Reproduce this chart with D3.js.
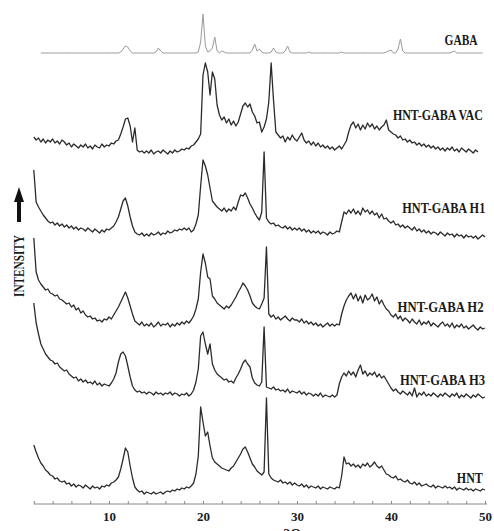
<!DOCTYPE html>
<html>
<head>
<meta charset="UTF-8">
<title>XRD patterns</title>
<script src="https://d3js.org/d3.v7.min.js"></script>
<style>
  body { margin: 0; background: #fff; }
  .lbl { font-family: "Liberation Serif", "Times New Roman", serif; font-weight: bold; fill: #1a1a1a; }
</style>
</head>
<body>
<div id="chart"></div>
<script>
// 2-theta sampling: 2 to 50 deg, step 0.25
var thetaStart = 2, thetaStep = 0.25, nPoints = 193;
var twoTheta = d3.range(nPoints).map(function(i) { return thetaStart + i * thetaStep; });

var seriesNames = ["GABA", "HNT-GABA VAC", "HNT-GABA H1", "HNT-GABA H2", "HNT-GABA H3", "HNT"];
var tickLabels = [10, 20, 30, 40, 50];

// stacked intensity (a.u.), one row = 2 degrees
var gaba = [
  null,null,null,451,451,451,451,451,
  451,451,451,451,451,451,451,451,
  451,451,451,451,451,451,451,451,
  451,451,451,451,451,451,451,451,
  451,451,451,451,451,452,455,458,
  457,453,451,451,451,451,451,451,
  451,451,451,451,452,456,453,451,
  451,451,451,451,451,451,451,451,
  451,451,451,451,451,451,452,462,
  490,458,452,453,456,467,453,451,
  453,452,451,451,451,451,451,451,
  451,451,451,451,451,454,460,453,
  455,452,451,451,451,452,456,452,
  451,451,451,453,458,452,451,451,
  451,451,451,451,451,452,451,451,
  451,451,451,451,451,451,451,451,
  451,451,451,452,451,451,451,451,
  451,451,451,451,451,451,451,451,
  451,451,451,451,451,451,452,453,
  454,451,451,455,465,453,451,451,
  451,451,451,451,451,451,451,451,
  451,451,451,451,451,451,451,451,
  451,451,452,453,451,451,451,451,
  451,451,451,451,451,451,451,451,
  null
];
var hntGabaVac = [
  367,364,366,362,365,361,364,362,
  365,361,363,360,364,362,359,361,
  357,360,358,356,359,357,360,356,
  358,355,359,357,356,360,357,359,
  358,361,360,363,364,370,377,385,
  386,378,362,376,354,352,353,351,
  353,351,354,350,352,353,351,354,
  352,350,353,351,354,352,353,355,
  354,356,355,358,359,362,365,370,
  429,441,432,409,432,425,399,389,
  384,387,381,385,379,383,378,382,
  390,398,401,397,400,392,388,381,
  382,372,377,385,402,441,404,372,
  369,366,368,362,367,364,369,365,
  363,367,371,364,361,363,359,362,
  358,361,357,359,356,358,355,357,
  354,356,358,355,359,363,372,379,
  382,376,380,374,379,375,381,377,
  380,375,378,374,377,379,384,374,
  372,370,369,366,368,364,365,362,
  364,361,362,359,361,358,360,357,
  359,356,358,355,357,354,356,353,
  356,354,357,353,355,352,356,354,
  352,355,353,351,354,352,null,null,
  null
];
var hntGabaH1 = [
  334,302,297,293,289,286,283,281,
  282,279,281,278,280,277,279,276,
  278,275,277,274,276,275,273,276,
  274,272,275,273,271,274,272,275,
  274,276,278,282,287,295,303,306,
  298,287,278,272,270,269,271,268,
  270,268,271,269,270,272,269,271,
  270,273,271,272,274,273,275,274,
  276,274,276,272,274,280,289,318,
  344,338,329,316,303,300,297,295,
  293,296,292,295,293,297,294,302,
  309,308,311,306,300,296,291,287,
  284,292,352,286,282,280,281,278,
  279,277,276,278,275,277,274,276,
  274,276,273,275,272,274,271,273,
  271,273,270,272,271,269,272,270,
  271,273,272,282,292,290,294,291,
  295,290,293,289,296,292,294,290,
  293,289,291,286,290,285,286,283,
  281,283,279,280,277,279,276,278,
  276,274,277,273,275,272,274,271,
  273,270,272,271,269,272,270,268,
  271,269,270,267,270,268,269,266,
  269,267,268,266,268,265,267,269,
  267
];
var hntGabaH2 = [
  266,232,224,220,217,214,215,211,
  210,208,209,205,204,202,200,201,
  197,199,194,196,191,193,189,187,
  188,185,186,183,184,182,185,184,
  187,185,189,193,197,202,207,212,
  206,198,190,183,181,179,182,178,
  180,178,181,177,179,182,178,180,
  179,181,177,180,178,181,179,182,
  180,183,181,184,188,195,205,232,
  250,241,227,225,208,205,201,199,
  197,195,198,196,199,203,207,212,
  216,221,218,214,208,201,198,196,
  195,200,206,257,190,187,189,185,
  187,184,186,188,185,183,186,184,
  184,182,185,181,183,180,182,179,
  181,178,180,177,179,181,178,180,
  178,180,179,190,198,204,208,211,
  205,210,203,208,201,209,204,206,
  210,203,207,200,204,199,195,193,
  189,187,190,185,188,183,186,184,
  181,185,182,180,184,179,182,180,
  183,178,181,179,177,180,182,178,
  180,177,181,176,179,177,180,176,
  178,175,177,179,176,174,177,175,
  176
];
var hntGabaH3 = [
  201,181,170,160,155,150,147,144,
  143,140,141,137,135,133,134,130,
  128,126,127,123,125,122,124,121,
  122,120,123,119,121,118,120,119,
  118,121,125,131,142,150,152,148,
  138,127,118,114,112,113,111,112,
  110,112,111,109,112,110,111,109,
  111,110,112,109,111,110,108,110,
  109,111,108,110,114,122,135,168,
  172,160,150,160,140,134,130,128,
  126,124,125,122,123,121,126,130,
  135,141,144,140,137,126,121,119,
  118,122,177,117,116,115,117,114,
  115,113,114,112,115,111,113,112,
  111,113,110,112,109,111,110,108,
  110,108,111,107,109,108,107,109,
  107,109,120,127,131,128,133,129,
  132,127,134,139,130,133,128,131,
  129,132,127,130,126,128,124,120,
  116,113,115,112,110,113,111,109,
  112,108,116,107,111,109,112,108,
  110,108,111,109,107,110,108,111,
  109,107,110,108,111,106,109,107,
  110,108,106,109,107,110,108,106,
  107
];
var hnt = [
  59,52,46,41,38,34,32,29,
  28,25,26,23,22,23,20,21,
  18,20,17,19,18,16,19,17,
  15,18,16,17,15,18,17,19,
  18,21,22,24,27,35,45,56,
  52,38,26,17,14,12,13,10,
  12,11,10,12,10,11,12,10,
  12,13,12,14,13,15,14,16,
  15,17,16,18,21,30,48,97,
  82,68,72,58,46,42,40,38,
  36,35,34,33,36,38,42,46,
  50,55,57,52,46,40,37,33,
  31,29,32,106,30,26,24,23,
  22,24,21,22,20,22,19,21,
  19,18,20,17,19,16,18,17,
  16,18,15,17,16,15,17,16,
  15,17,16,28,47,40,41,38,
  40,37,39,36,40,38,41,37,
  39,42,38,36,38,34,30,29,
  27,26,28,24,25,23,22,24,
  21,20,22,19,21,18,19,20,
  18,17,19,16,18,17,16,18,
  16,17,15,17,14,16,15,14,
  16,14,15,13,15,14,13,15,
  14
];

var series = [gaba, hntGabaVac, hntGabaH1, hntGabaH2, hntGabaH3, hnt];
// label placement: 2-theta where the name starts, level (a.u.) of its baseline, text width
var labelTheta = [45.7, 40.2, 41.2, 40.7, 40.95, 47.0];
var labelLevel = [459, 384, 291, 192, 119, 21];
var labelWidth = [33, 90, 83, 86, 85, 26];

var W = 494, H = 531;
var svg = d3.select("#chart").append("svg")
    .attr("width", W)
    .attr("height", H);

var x = d3.scaleLinear().domain([2, 50]).range([33.8, 485]);
var y = d3.scaleLinear().domain([0, 500]).range([504, 4]);

var line = d3.line()
    .defined(function(d) { return d != null; })
    .x(function(d, i) { return x(twoTheta[i]); })
    .y(function(d) { return y(d); });

svg.selectAll("path.trace")
    .data(series)
    .enter()
    .append("path")
    .attr("class", "trace")
    .attr("d", line)
    .attr("fill", "none")
    .attr("stroke", function(d, i) { return i == 0 ? "#9a9a9a" : "#2b2b2b"; })
    .attr("stroke-width", function(d, i) { return i == 0 ? 1 : 1.3; })
    .attr("stroke-linejoin", "round");

// pattern names (condensed, tall bold serif like the original)
svg.selectAll("text.name")
    .data(seriesNames)
    .enter()
    .append("text")
    .attr("class", "lbl name")
    .attr("transform", function(d, i) {
        return "translate(" + x(labelTheta[i]) + "," + y(labelLevel[i]) + ") scale(1,1.3)";
    })
    .style("font-size", "11.5px")
    .attr("textLength", function(d, i) { return labelWidth[i]; })
    .attr("lengthAdjust", "spacingAndGlyphs")
    .text(function(d) { return d; });

// x axis: minor ticks every 2 deg, labels every 10
var axisG = svg.append("g")
    .attr("transform", "translate(0,504)");
axisG.call(d3.axisBottom(x)
    .tickValues(d3.range(2, 51, 2))
    .tickSizeInner(-3)
    .tickSizeOuter(0)
    .tickFormat(""));
axisG.select(".domain").attr("stroke", "#8a8a8a").attr("d", "M" + x(2) + ",0H" + (x(50) + 2));
axisG.selectAll(".tick line").attr("stroke", "#8a8a8a");

var labG = svg.append("g")
    .attr("transform", "translate(0,504)");
labG.call(d3.axisBottom(x)
    .tickValues(tickLabels)
    .tickSize(0)
    .tickPadding(8)
    .tickFormat(d3.format("d")));
labG.select(".domain").remove();
labG.selectAll("text")
    .attr("class", "lbl")
    .style("font-size", "13px")
    .attr("fill", "#1a1a1a");

// axis titles
svg.append("text")
    .attr("class", "lbl")
    .attr("x", x(29.5))
    .attr("y", 539)
    .attr("text-anchor", "middle")
    .style("font-size", "14px")
    .text("2Θ");

svg.append("text")
    .attr("class", "lbl")
    .attr("transform", "translate(24,266) rotate(-90)")
    .attr("text-anchor", "middle")
    .style("font-size", "14px")
    .attr("textLength", 62)
    .attr("lengthAdjust", "spacingAndGlyphs")
    .text("INTENSITY");

// arrow
svg.append("path")
    .attr("d", "M19,187 L24,202 L21,202 L21,222 L17,222 L17,202 L14,202 Z")
    .attr("fill", "#111");
</script>
</body>
</html>
